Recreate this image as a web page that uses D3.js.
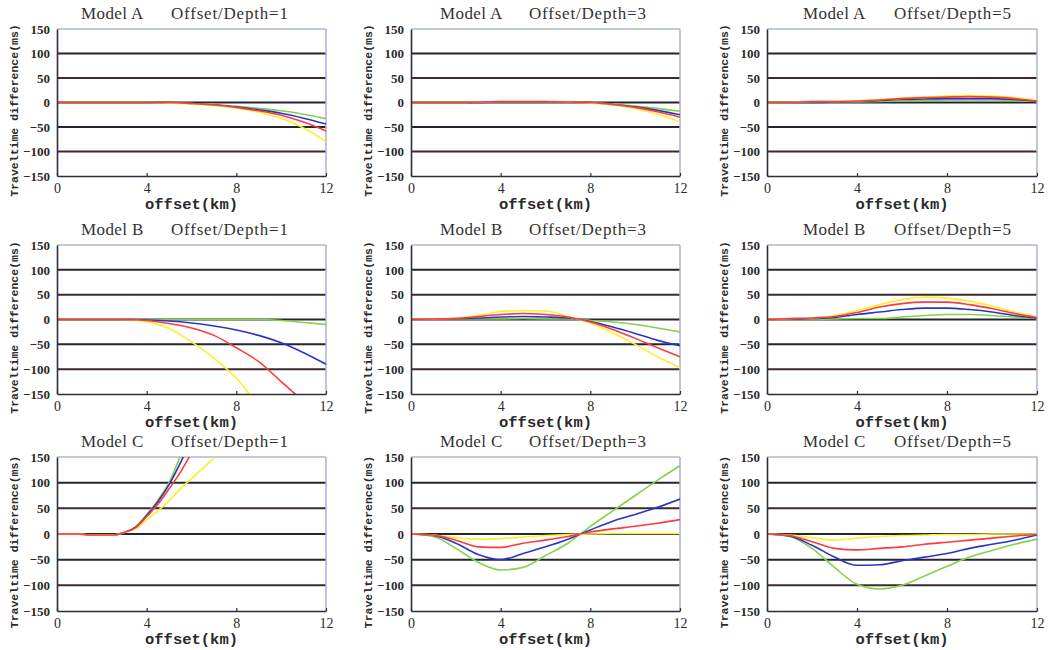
<!DOCTYPE html>
<html>
<head>
<meta charset="utf-8">
<script src="https://cdn.jsdelivr.net/npm/d3@7"></script>
<style>
  html, body { margin: 0; padding: 0; background: #fff; }
  svg { display: block; }
</style>
</head>
<body>
<svg id="chart" width="1052" height="650"></svg>
<script>
// Offsets (km) at which the traveltime differences are sampled
const offsets = [0, 1, 2, 3, 4, 5, 6, 7, 8, 9, 10, 11, 12];
const offsetsFine = [0, 0.5, 1, 1.5, 2, 2.5, 3, 3.5, 4, 4.5, 5, 5.5, 6, 6.5, 7, 7.5];

// Series order in every panel: green, blue, red, yellow
const seriesNames = ["green", "blue", "red", "yellow"];
const seriesColors = ["#86d04a", "#2a35c8", "#ff3a3a", "#ffee2a"];
const drawOrder = [0, 1, 3, 2];

const yTicks = [-150, -100, -50, 0, 50, 100, 150];
const gridValues = [-100, -50, 0, 50, 100];
const xTicks = [0, 4, 8, 12];

const models = ["Model A", "Model B", "Model C"];
const ratios = [1, 3, 5];

// Traveltime differences (ms); null = beyond the plotted range
const modelA1 = [
  [0, 0, 0, 0, 0, 0, -2, -4, -8, -12, -17, -24, -33],
  [0, 0, 0, 0, 0, 0, -2, -5, -9, -15, -22, -32, -44],
  [0, 0, 0, 0, 0, 0, -2, -5, -10, -17, -26, -40, -58],
  [0, 0, 0, 0, 0, -1, -3, -6, -11, -20, -32, -52, -80]
];
const modelA3 = [
  [0, 0, 0, 0, 1, 1, 1, 1, 0, -3, -7, -12, -18],
  [0, 0, 0, 0, 1, 1, 1, 1, 0, -4, -9, -16, -25],
  [0, 0, 0, 1, 2, 2, 2, 1, 0, -4, -10, -19, -30],
  [0, 0, 0, 1, 2, 2, 2, 1, -1, -5, -12, -24, -40]
];
const modelA5 = [
  [0, 0, 0, 0, 1, 2, 3, 4, 5, 5, 5, 4, 2],
  [0, 0, 0, 1, 2, 4, 6, 7, 8, 8, 8, 6, 3],
  [0, 0, 2, 2, 3, 5, 8, 10, 11, 12, 11, 8, 3],
  [0, 0, 2, 2, 3, 6, 9, 11, 13, 14, 13, 10, 4]
];
const modelB1 = [
  [0, 0, 0, 0, 0, 0, 0, 0, 0, 0, -2, -6, -10],
  [0, 0, 0, 0, -1, -3, -7, -13, -21, -32, -47, -67, -90],
  [0, 0, 0, 0, -2, -8, -17, -32, -57, -85, -125, -165, null],
  [0, 0, 0, 0, -4, -18, -45, -78, -118, -175, null, null, null]
];
const modelB3 = [
  [0, 1, 1, 1, 1, 2, 1, 1, -2, -5, -10, -17, -25],
  [0, 1, 2, 3, 5, 6, 5, 3, -4, -15, -28, -42, -53],
  [0, 1, 2, 6, 10, 12, 10, 5, -5, -20, -38, -57, -75],
  [0, 1, 3, 8, 16, 18, 17, 6, -7, -27, -50, -75, -97]
];
const modelB5 = [
  [0, 0, 0, 1, 2, 2, 5, 8, 10, 10, 8, 5, 2],
  [0, 1, 2, 4, 10, 15, 20, 23, 23, 20, 15, 8, 3],
  [0, 2, 3, 6, 14, 25, 32, 35, 35, 30, 22, 12, 4],
  [0, 2, 3, 8, 18, 30, 40, 45, 43, 37, 27, 15, 5]
];
const modelC1 = [
  [0, 0, 0, -2, -2, -2, 3, 14, 38, 66, 100, 152, null, null, null, null],
  [0, 0, 0, -2, -2, -2, 3, 13, 36, 63, 96, 138, 185, null, null, null],
  [0, 0, 0, -2, -2, -2, 3, 12, 34, 58, 88, 120, 158, null, null, null],
  [0, 0, 0, -2, -2, -2, 3, 10, 28, 45, 65, 88, 108, 128, 148, 170]
];
const modelC3 = [
  [0, -5, -28, -55, -70, -65, -42, -18, 15, 45, 75, 105, 133],
  [0, -3, -18, -40, -50, -38, -25, -10, 8, 25, 38, 52, 68],
  [0, -2, -12, -25, -26, -18, -12, -5, 4, 10, 15, 21, 28],
  [0, -2, -7, -10, -9, -6, -3, -1, 0, 1, 1, 1, 1]
];
const modelC5 = [
  [0, -5, -28, -65, -98, -107, -100, -82, -63, -45, -32, -20, -10],
  [0, -4, -22, -45, -61, -60, -52, -45, -38, -28, -20, -12, -2],
  [0, -3, -15, -28, -31, -28, -25, -20, -16, -12, -8, -4, -1],
  [0, -2, -7, -12, -8, -5, -3, -2, -1, -1, 0, 0, 0]
];

const panelData = [
  [modelA1, modelA3, modelA5],
  [modelB1, modelB3, modelB5],
  [modelC1, modelC3, modelC5]
];
const panelOffsets = [
  [offsets, offsets, offsets],
  [offsets, offsets, offsets],
  [offsetsFine, offsets, offsets]
];

// Panel frames (plot areas) in pixels
const colFrames = [[57, 326], [411, 680], [767, 1037]];
const rowFrames = [[29, 176], [245, 394], [457, 611]];
const titleShift = [[24, 114], [29, 118], [36, 127]];

const svg = d3.select("#chart");
const defs = svg.append("defs");

const serif = "'Liberation Serif', 'Times New Roman', serif";
const mono = "'Liberation Mono', 'Courier New', monospace";

rowFrames.forEach((rf, r) => {
  colFrames.forEach((cf, c) => {
    const [x0, x1] = cf;
    const [y0, y1] = rf;
    const x = d3.scaleLinear().domain([0, 12]).range([x0, x1]);
    const y = d3.scaleLinear().domain([-150, 150]).range([y1, y0]);
    const g = svg.append("g");
    const clipId = `clip-${r}-${c}`;
    defs.append("clipPath").attr("id", clipId)
      .append("rect").attr("x", x0).attr("y", y0)
      .attr("width", x1 - x0).attr("height", y1 - y0);

    // Horizontal gridlines
    g.append("g").selectAll("line").data(gridValues).join("line")
      .attr("x1", x0).attr("x2", x1)
      .attr("y1", d => y(d)).attr("y2", d => y(d))
      .attr("stroke", d => (d === 50 || d === -100) ? "#3b2a30" : "#23262e")
      .attr("stroke-width", 2);

    // Frame: light top/right, dark left/bottom
    g.append("line").attr("x1", x0).attr("x2", x1).attr("y1", y0).attr("y2", y0)
      .attr("stroke", "#8393bb").attr("stroke-width", 1.2);
    g.append("line").attr("x1", x1).attr("x2", x1).attr("y1", y0).attr("y2", y1)
      .attr("stroke", "#a9b1d6").attr("stroke-width", 1.5);

    // Series lines
    const xs = panelOffsets[r][c];
    const data = panelData[r][c];
    const line = d3.line()
      .defined(d => d[1] !== null)
      .x(d => x(d[0])).y(d => y(d[1]))
      .curve(d3.curveMonotoneX);
    const lines = g.append("g").attr("clip-path", `url(#${clipId})`);
    drawOrder.forEach(si => {
      const pts = xs.map((xv, i) => [xv, data[si][i]]);
      lines.append("path").datum(pts)
        .attr("class", `series-${seriesNames[si]}`)
        .attr("d", line)
        .attr("fill", "none")
        .attr("stroke", seriesColors[si])
        .attr("stroke-width", 1.6)
        .attr("stroke-linejoin", "round");
    });

    // Axes
    const yAxis = d3.axisLeft(y).tickValues(yTicks).tickSize(0).tickPadding(7)
      .tickFormat(d => d < 0 ? "\u2212" + Math.abs(d) : d);
    const ya = g.append("g").attr("transform", `translate(${x0},0)`).call(yAxis);
    ya.select(".domain").attr("stroke", "#2b2f3a").attr("stroke-width", 1.6);
    ya.selectAll("text").attr("font-family", serif).attr("font-size", 13)
      .attr("fill", "#2a2a2a").attr("font-weight", "bold");

    const xAxis = d3.axisBottom(x).tickValues(xTicks).tickSizeInner(-3).tickSizeOuter(0).tickPadding(7);
    const xa = g.append("g").attr("transform", `translate(0,${y1})`).call(xAxis);
    xa.select(".domain").attr("stroke", "#2b2f3a").attr("stroke-width", 1.6);
    xa.selectAll(".tick line").attr("stroke", "#2b2f3a").attr("stroke-width", 1.2);
    xa.selectAll("text").attr("font-family", serif).attr("font-size", 14)
      .attr("fill", "#2a2a2a");

    // Titles
    g.append("text").attr("x", x0 + titleShift[c][0]).attr("y", y0 - 10)
      .attr("font-family", serif).attr("font-size", 17).attr("fill", "#333")
      .attr("letter-spacing", 0.4)
      .text(models[r]);
    g.append("text").attr("x", x0 + titleShift[c][1]).attr("y", y0 - 10)
      .attr("font-family", serif).attr("font-size", 17).attr("fill", "#333")
      .attr("letter-spacing", 0.8)
      .text(`Offset/Depth=${ratios[c]}`);

    // Axis labels
    g.append("text").attr("x", (x0 + x1) / 2).attr("y", y1 + 33)
      .attr("text-anchor", "middle")
      .attr("font-family", mono).attr("font-size", 15.5).attr("font-weight", "bold")
      .attr("fill", "#2a2a2a")
      .text("offset(km)");
    const cy = (y0 + y1) / 2 + 8;
    g.append("text")
      .attr("transform", `translate(${x0 - 39},${cy}) rotate(-90)`)
      .attr("text-anchor", "middle")
      .attr("font-family", mono).attr("font-size", 11.5).attr("font-weight", "bold")
      .attr("fill", "#2a2a2a")
      .text("Traveltime difference(ms)");
  });
});
</script>
</body>
</html>
